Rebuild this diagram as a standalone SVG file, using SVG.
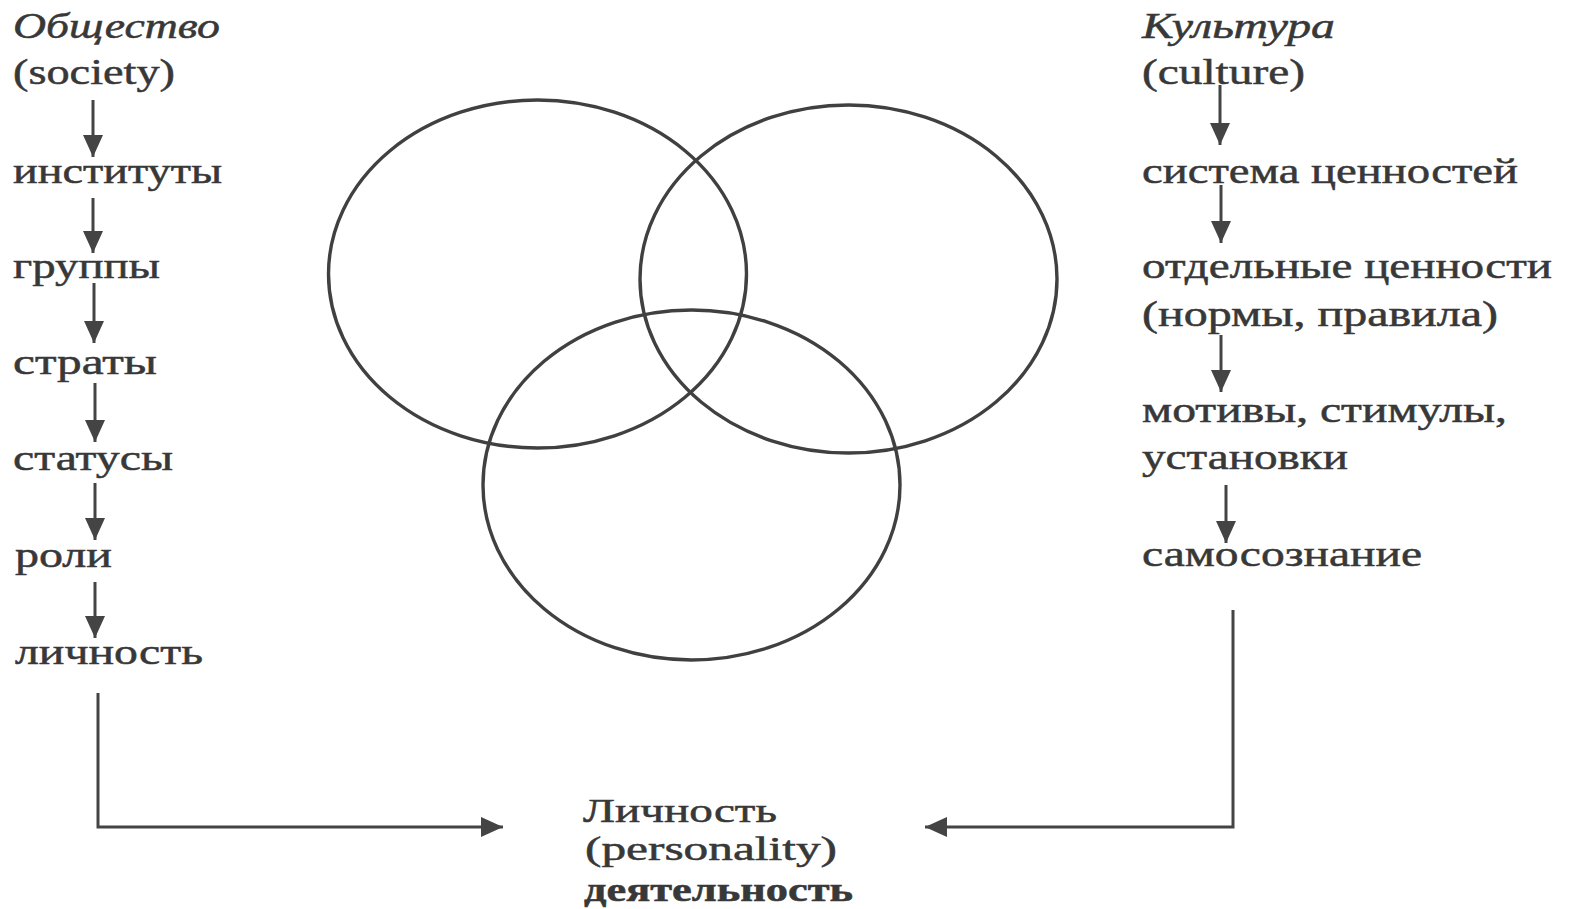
<svg xmlns="http://www.w3.org/2000/svg" width="1571" height="909" viewBox="0 0 1571 909">
<style>
text{font-family:"Liberation Serif","DejaVu Serif",serif;font-size:36px;fill:#383838;stroke:#383838;stroke-width:0.5;}
.it{font-style:italic;}
.b{font-weight:bold;}
.sm{font-size:33px;}
.conn{stroke:#444;stroke-width:3;fill:none;}
.ring{stroke:#404040;stroke-width:3.4;fill:none;}
</style>
<defs>
<marker id="ah" markerUnits="userSpaceOnUse" markerWidth="24" markerHeight="24" viewBox="0 0 24 20" refX="22" refY="10" orient="auto">
<path d="M0,0 L22,10 L0,20 Z" fill="#444"/>
</marker>
</defs>
<rect width="1571" height="909" fill="#fff"/>
<g id="venn">
<ellipse class="ring" cx="537.5" cy="274" rx="209" ry="174"/>
<ellipse class="ring" cx="848.5" cy="279" rx="208.5" ry="174"/>
<ellipse class="ring" cx="691.5" cy="485" rx="208.5" ry="175"/>
</g>
<g id="society">
<text class="it" x="13" y="38" textLength="207" lengthAdjust="spacingAndGlyphs">Общество</text>
<text x="13" y="84" textLength="162" lengthAdjust="spacingAndGlyphs">(society)</text>
</g>
<g id="institutes"><text x="13" y="183" textLength="209" lengthAdjust="spacingAndGlyphs">институты</text></g>
<g id="groups"><text x="13" y="278" textLength="147" lengthAdjust="spacingAndGlyphs">группы</text></g>
<g id="strata"><text x="13" y="374" textLength="144" lengthAdjust="spacingAndGlyphs">страты</text></g>
<g id="statuses"><text x="13" y="470" textLength="160" lengthAdjust="spacingAndGlyphs">статусы</text></g>
<g id="roles"><text x="15" y="567" textLength="97" lengthAdjust="spacingAndGlyphs">роли</text></g>
<g id="person-left"><text x="15" y="664" textLength="188" lengthAdjust="spacingAndGlyphs">личность</text></g>
<g id="culture">
<text class="it" x="1142" y="38" textLength="193" lengthAdjust="spacingAndGlyphs">Культура</text>
<text x="1142" y="84" textLength="163" lengthAdjust="spacingAndGlyphs">(culture)</text>
</g>
<g id="value-system"><text x="1142" y="183" textLength="376" lengthAdjust="spacingAndGlyphs">система ценностей</text></g>
<g id="values">
<text x="1142" y="278" textLength="410" lengthAdjust="spacingAndGlyphs">отдельные ценности</text>
<text x="1142" y="326" textLength="356" lengthAdjust="spacingAndGlyphs">(нормы, правила)</text>
</g>
<g id="motives">
<text x="1142" y="422" textLength="365" lengthAdjust="spacingAndGlyphs">мотивы, стимулы,</text>
<text x="1142" y="469" textLength="206" lengthAdjust="spacingAndGlyphs">установки</text>
</g>
<g id="self-awareness"><text x="1142" y="566" textLength="280" lengthAdjust="spacingAndGlyphs">самосознание</text></g>
<g id="personality">
<text class="sm" x="583" y="822" textLength="194" lengthAdjust="spacingAndGlyphs">Личность</text>
<text class="sm" x="585" y="860" textLength="252" lengthAdjust="spacingAndGlyphs">(personality)</text>
<text class="sm b" x="584" y="901" textLength="269" lengthAdjust="spacingAndGlyphs">деятельность</text>
</g>
<g id="connectors">
<line class="conn" x1="93" y1="100" x2="93" y2="157" marker-end="url(#ah)"/>
<line class="conn" x1="93" y1="198" x2="93" y2="253" marker-end="url(#ah)"/>
<line class="conn" x1="94" y1="283" x2="94" y2="343" marker-end="url(#ah)"/>
<line class="conn" x1="95" y1="383" x2="95" y2="442" marker-end="url(#ah)"/>
<line class="conn" x1="95" y1="483" x2="95" y2="540" marker-end="url(#ah)"/>
<line class="conn" x1="95" y1="582" x2="95" y2="638" marker-end="url(#ah)"/>
<line class="conn" x1="1220" y1="85" x2="1220" y2="145" marker-end="url(#ah)"/>
<line class="conn" x1="1221" y1="185" x2="1221" y2="243" marker-end="url(#ah)"/>
<line class="conn" x1="1221" y1="335" x2="1221" y2="392" marker-end="url(#ah)"/>
<line class="conn" x1="1226" y1="485" x2="1226" y2="543" marker-end="url(#ah)"/>
<path class="conn" d="M98,693 V827 H503" marker-end="url(#ah)"/>
<path class="conn" d="M1233,610 V827 H925" marker-end="url(#ah)"/>
</g>
</svg>
